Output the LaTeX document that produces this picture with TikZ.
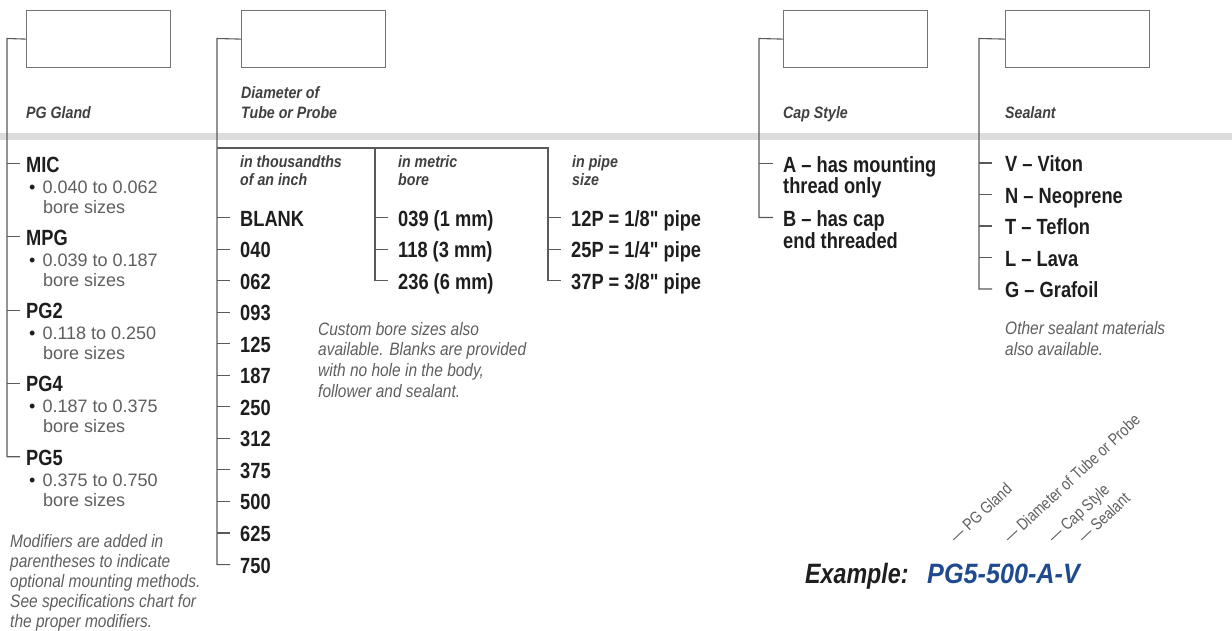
\documentclass[tikz,border=0pt]{standalone}
\usepackage{fontspec}
\setmainfont{Liberation Sans}
\newfontfamily\condfont{Liberation Sans}[FakeStretch=0.83]
\newfontfamily\headfont{Liberation Sans}[FakeStretch=0.86]
\newfontfamily\codefont{Liberation Sans}[FakeStretch=0.9]
\definecolor{ink}{HTML}{1E1E1E}
\definecolor{greytext}{HTML}{5E5E5E}
\definecolor{rulegrey}{HTML}{5A5A5A}
\definecolor{bandgrey}{HTML}{DDDDDD}
\definecolor{codeblue}{HTML}{1F4A8F}
\begin{document}
\begin{tikzpicture}[x=1pt,y=-1pt,
    every node/.style={inner sep=0pt,anchor=base west},
    bus/.style={draw=rulegrey,line width=1.1pt},
    codebox/.style={draw=rulegrey!85,line width=1.2pt,minimum width=144pt,minimum height=57pt,anchor=north west},
    item/.style={font=\condfont\bfseries\fontsize{22}{24}\selectfont,text=ink,text height=17pt,text depth=0pt},
    head/.style={font=\headfont\bfseries\itshape\fontsize{16.5}{19}\selectfont,text=ink!85},
    sizetext/.style={font=\fontsize{18}{20}\selectfont,text=greytext},
    note/.style={font=\headfont\itshape\fontsize{18}{21}\selectfont,text=greytext},
    tilt/.style={font=\condfont\fontsize{16.5}{18}\selectfont,text=greytext,rotate=43}]
    \useasboundingbox (0,0) rectangle (1232,630);
    \fill[bandgrey] (0,133) rectangle (1232,140);
    \coordinate (glandbus) at (7,38.5);
    \coordinate (thbus) at (217,38.5);
    \coordinate (metricbus) at (375,148);
    \coordinate (pipebus) at (548,148);
    \coordinate (capbus) at (759,38.5);
    \coordinate (sealbus) at (979,38.5);
    \node[codebox] (glandbox) at (26,10) {};
    \node[codebox] (diabox) at (241,10) {};
    \node[codebox] (capbox) at (783,10) {};
    \node[codebox] (sealbox) at (1005,10) {};
    \node[head] (glandhead) at (26,118) {PG Gland};
    \node[head] (diahead) at (241,98) {Diameter of};
    \node[head] (diahead2) at (241,118) {Tube or Probe};
    \node[head] (caphead) at (783,118) {Cap Style};
    \node[head] (sealhead) at (1005,118) {Sealant};
    \node[head] (thhead) at (240,167) {in thousandths};
    \node[head] (thhead2) at (240,185) {of an inch};
    \node[head] (mehead) at (398,167) {in metric};
    \node[head] (mehead2) at (398,185) {bore};
    \node[head] (pihead) at (572,167) {in pipe};
    \node[head] (pihead2) at (572,185) {size};
    \foreach \nm/\code/\sizes [count=\i from 0] in {mic/MIC/0.040 to 0.062,mpg/MPG/0.039 to 0.187,pg2/PG2/0.118 to 0.250,pg4/PG4/0.187 to 0.375,pg5/PG5/0.375 to 0.750}{
        \node[item] (\nm) at (26,{172+73.3*\i}) {\code};
        \node[sizetext] (\nm r) at (29,{193+73.3*\i}) {\textcolor{ink}{•}\hspace{7pt}\sizes};
        \node[sizetext] (\nm b) at (43,{213+73.3*\i}) {bore sizes};
    }
    \foreach \nm in {mic,mpg,pg2,pg4}
        \draw[bus] (glandbus |- \nm.west) -- ([xshift=-6pt]\nm.west);
    \draw[bus] (glandbox.west) -- (glandbus) |- ([xshift=-6pt]pg5.west);
    \foreach \val [count=\i from 0] in {BLANK,040,062,093,125,187,250,312,375,500,625,750}
        \node[item] (th\i) at (240,{226+31.55*\i}) {\val};
    \foreach \i in {0,...,10}
        \draw[bus] (thbus |- th\i.west) -- ([xshift=-10pt]th\i.west);
    \draw[bus] (diabox.west) -- (thbus) |- ([xshift=-10pt]th11.west);
    \foreach \val [count=\i from 0] in {039 (1 mm),118 (3 mm),236 (6 mm)}
        \node[item] (me\i) at (398,{226+31.55*\i}) {\val};
    \foreach \val [count=\i from 0] in {12P = 1/8" pipe,25P = 1/4" pipe,37P = 3/8" pipe}
        \node[item] (pi\i) at (571,{226+31.55*\i}) {\val};
    \foreach \i in {0,1}{
        \draw[bus] (metricbus |- me\i.west) -- ([xshift=-10pt]me\i.west);
        \draw[bus] (pipebus |- pi\i.west) -- ([xshift=-10pt]pi\i.west);
    }
    \draw[bus] (thbus |- metricbus) -- (pipebus) |- ([xshift=-10pt]pi2.west);
    \draw[bus] (metricbus) |- ([xshift=-10pt]me2.west);
    \node[item] (capa) at (783,172) {A – has mounting};
    \node[item] (capa2) at (783,193) {thread only};
    \node[item] (capb) at (783,226) {B – has cap};
    \node[item] (capb2) at (783,248) {end threaded};
    \draw[bus] (capbus |- capa.west) -- ([xshift=-10pt]capa.west);
    \draw[bus] (capbox.west) -- (capbus) |- ([xshift=-10pt]capb.west);
    \foreach \val [count=\i from 0] in {V – Viton,N – Neoprene,T – Teflon,L – Lava,G – Grafoil}
        \node[item] (seal\i) at (1005,{171.5+31.5*\i}) {\val};
    \foreach \i in {0,...,3}
        \draw[bus] (sealbus |- seal\i.west) -- ([xshift=-13pt]seal\i.west);
    \draw[bus] (sealbox.west) -- (sealbus) |- ([xshift=-13pt]seal4.west);
    \foreach \txt [count=\i from 0] in {Custom bore sizes also,available. Blanks are provided,{with no hole in the body,},follower and sealant.}
        \node[note] (custom\i) at (318,{335+20.7*\i}) {\txt};
    \foreach \txt [count=\i from 0] in {Modifiers are added in,parentheses to indicate,optional mounting methods.,See specifications chart for,the proper modifiers.}
        \node[note] (modnote\i) at (10,{547+20.2*\i}) {\txt};
    \node[note] (sealnote) at (1005,334) {Other sealant materials};
    \node[note] (sealnote2) at (1005,355) {also available.};
    \node[font=\condfont\bfseries\itshape\fontsize{28}{30}\selectfont,text=ink] (exlabel) at (805,583) {Example:};
    \node[font=\codefont\bfseries\itshape\fontsize{28}{30}\selectfont,text=codeblue] (excode) at (927,583) {PG5-500-A-V};
    \node[tilt] (tiltgland) at (956,544) {—\hspace{4pt}PG Gland};
    \node[tilt] (tiltdia) at (1010,544) {—\hspace{4pt}Diameter of Tube or Probe};
    \node[tilt] (tiltcap) at (1054,544) {—\hspace{4pt}Cap Style};
    \node[tilt] (tiltseal) at (1084,544) {—\hspace{4pt}Sealant};
\end{tikzpicture}
\end{document}
